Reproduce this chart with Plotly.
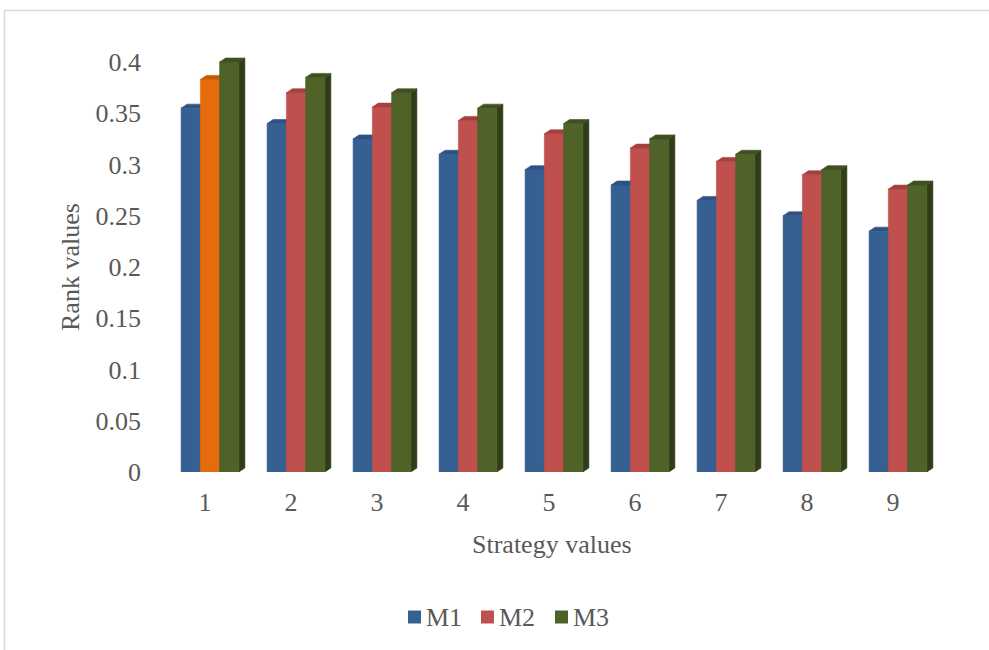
import plotly.graph_objects as go

# ---- data ----
categories = [1, 2, 3, 4, 5, 6, 7, 8, 9]
m1 = [0.355, 0.340, 0.325, 0.310, 0.295, 0.280, 0.265, 0.250, 0.235]
m2 = [0.383, 0.370, 0.356, 0.343, 0.330, 0.316, 0.303, 0.290, 0.276]
m3 = [0.400, 0.385, 0.370, 0.355, 0.340, 0.325, 0.310, 0.295, 0.280]
series_names = ["M1", "M2", "M3"]
y_tick_vals = [0, 0.05, 0.1, 0.15, 0.2, 0.25, 0.3, 0.35, 0.4]
y_tick_text = ["0", "0.05", "0.1", "0.15", "0.2", "0.25", "0.3", "0.35", "0.4"]

# ---- styling ----
# (front, top, side) shades per series
palette = {
    "M1": ("#366092", "#2D5283", "#243F63"),
    "M2": ("#C0504D", "#A3413F", "#8A3735"),
    "M3": ("#4F6228", "#3F5020", "#313D18"),
}
highlight = ("#E46C0A", "#C45A06", "#A34B05")   # M2 at strategy 1
highlight_point = ("M2", 0)

W, H = 989, 650
ML, MR, MT, MB = 162, 53, 41, 178
plot_w = W - ML - MR
plot_h = H - MT - MB
px_per_y = 410 / 0.4            # pixels per unit of rank
y_top = plot_h / px_per_y
px_per_x = plot_w / 9.0

bar_w = 0.224                  # width of one column in category units
group_shift = 0.058            # perspective shift of the column block
dx = 6 / px_per_x              # depth of the 3-D columns
dy = 4 / px_per_y

TEXT = "#595959"
FONT = "Liberation Serif"
FS = 26

fig = go.Figure()


def poly(xs, ys, color):
    fig.add_trace(go.Scatter(
        x=xs + [xs[0]], y=ys + [ys[0]], mode="lines", fill="toself",
        fillcolor=color, line=dict(color=color, width=0.6),
        hoverinfo="skip", showlegend=False))


all_series = [m1, m2, m3]
for j, (name, vals) in enumerate(zip(series_names, all_series)):
    for i, (c, v) in enumerate(zip(categories, vals)):
        front, top, side = palette[name]
        if (name, i) == highlight_point:
            front, top, side = highlight
        x0 = c + group_shift + (j - 1.5) * bar_w
        x1 = x0 + bar_w
        # right side face
        poly([x1, x1 + dx, x1 + dx, x1], [0, dy, v + dy, v], side)
        # front face
        poly([x0, x1, x1, x0], [0, 0, v, v], front)
        # top face
        poly([x0, x0 + dx, x1 + dx, x1], [v, v + dy, v + dy, v], top)


def px_to_paper_x(px):
    return (px - ML) / plot_w


def px_to_paper_y(py):
    return (H - MB - py) / plot_h


# legend below the axis title: colour swatch + series name
legend_swatch_left = [408, 481, 555]
legend_cy = 617
swatch = 13
shapes = [
    dict(type="rect", xref="paper", yref="paper",
         x0=px_to_paper_x(4.5), x1=px_to_paper_x(W + 20),
         y0=px_to_paper_y(H + 20), y1=px_to_paper_y(10.5),
         line=dict(color="#D9D9D9", width=1.5), fillcolor="rgba(0,0,0,0)",
         layer="below"),
]
annotations = [
    dict(text="Strategy values", xref="paper", yref="paper",
         x=px_to_paper_x(552), y=px_to_paper_y(544),
         xanchor="center", yanchor="middle", showarrow=False,
         font=dict(family=FONT, size=FS, color=TEXT)),
    dict(text="Rank values", xref="paper", yref="paper",
         x=px_to_paper_x(70), y=px_to_paper_y(267), textangle=-90,
         xanchor="center", yanchor="middle", showarrow=False,
         font=dict(family=FONT, size=FS, color=TEXT)),
]
for name, left in zip(series_names, legend_swatch_left):
    shapes.append(dict(
        type="rect", xref="paper", yref="paper",
        x0=px_to_paper_x(left), x1=px_to_paper_x(left + swatch),
        y0=px_to_paper_y(legend_cy + swatch / 2),
        y1=px_to_paper_y(legend_cy - swatch / 2),
        line=dict(width=0), fillcolor=palette[name][0]))
    annotations.append(dict(
        text=name, xref="paper", yref="paper",
        x=px_to_paper_x(left + swatch + 3), y=px_to_paper_y(legend_cy),
        xanchor="left", yanchor="middle", showarrow=False,
        font=dict(family=FONT, size=FS, color=TEXT)))

fig.update_layout(
    width=W, height=H,
    margin=dict(l=ML, r=MR, t=MT, b=MB, pad=0),
    paper_bgcolor="white", plot_bgcolor="white",
    font=dict(family=FONT, size=FS, color=TEXT),
    xaxis=dict(range=[0.5, 9.5], tickvals=categories,
               ticktext=[str(c) for c in categories],
               showgrid=False, zeroline=False, showline=False,
               ticks="", ticklabelstandoff=12, fixedrange=True),
    yaxis=dict(range=[0, y_top], tickvals=y_tick_vals, ticktext=y_tick_text,
               showgrid=False, zeroline=False, showline=False,
               ticks="", ticklabelstandoff=20, fixedrange=True),
    showlegend=False,
    annotations=annotations,
    shapes=shapes,
)

fig.write_html("out.html")
